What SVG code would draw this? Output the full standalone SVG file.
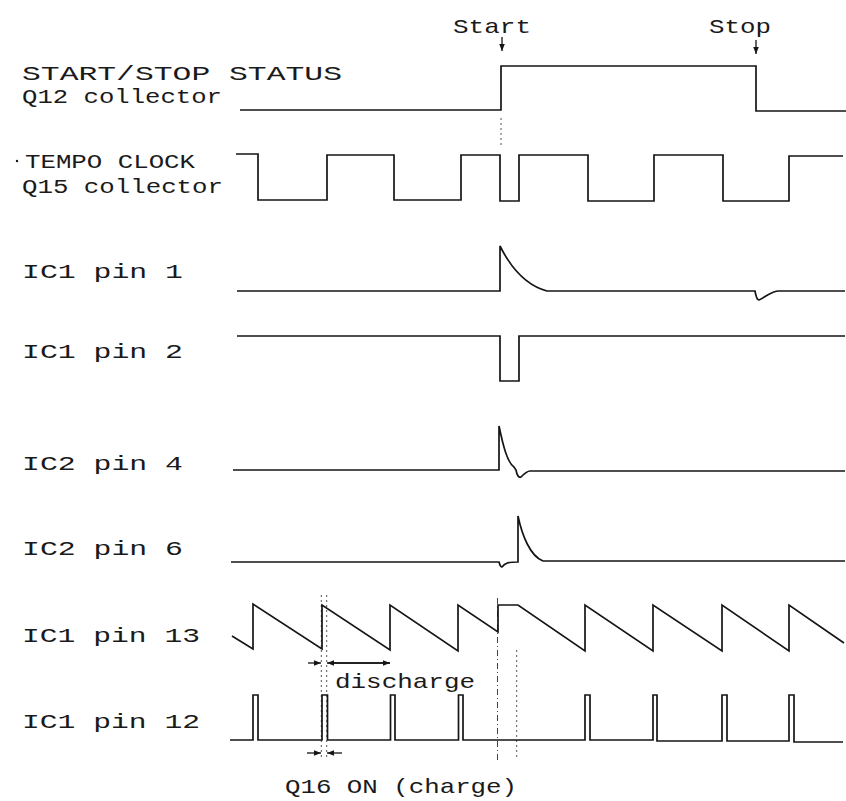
<svg xmlns="http://www.w3.org/2000/svg" width="846" height="801" viewBox="0 0 846 801">
<style>
.w{fill:none;stroke:#151515;stroke-width:1.7;stroke-linejoin:miter}
.t{font-family:"Liberation Mono","DejaVu Sans Mono",monospace;font-size:21px;fill:#1a1a1a}
.d{fill:none;stroke:#555;stroke-width:1;stroke-dasharray:2 3}
.dd{fill:none;stroke:#444;stroke-width:1;stroke-dasharray:6 3 1 3}
.a{fill:none;stroke:#151515;stroke-width:1.3}
</style>
<defs>
<marker id="ah" viewBox="0 0 10 10" refX="10" refY="5" markerWidth="7" markerHeight="7" markerUnits="userSpaceOnUse" orient="auto">
<path d="M0,1 L10,5 L0,9 Z" fill="#151515"/>
</marker>
</defs>
<rect width="846" height="801" fill="#fff"/>
<g id="labels">
<text class="t" x="22" y="80" textLength="320" lengthAdjust="spacingAndGlyphs">START/STOP STATUS</text>
<text class="t" x="22" y="103" textLength="200" lengthAdjust="spacingAndGlyphs">Q12 collector</text>
<circle cx="17" cy="161" r="1.2" fill="#151515"/>
<text class="t" x="25" y="168" textLength="170" lengthAdjust="spacingAndGlyphs">TEMPO CLOCK</text>
<text class="t" x="22" y="193" textLength="201" lengthAdjust="spacingAndGlyphs">Q15 collector</text>
<text class="t" x="22" y="278" textLength="161" lengthAdjust="spacingAndGlyphs">IC1 pin 1</text>
<text class="t" x="22" y="358" textLength="161" lengthAdjust="spacingAndGlyphs">IC1 pin 2</text>
<text class="t" x="22" y="470" textLength="161" lengthAdjust="spacingAndGlyphs">IC2 pin 4</text>
<text class="t" x="22" y="555" textLength="161" lengthAdjust="spacingAndGlyphs">IC2 pin 6</text>
<text class="t" x="22" y="642" textLength="178" lengthAdjust="spacingAndGlyphs">IC1 pin 13</text>
<text class="t" x="22" y="728" textLength="178" lengthAdjust="spacingAndGlyphs">IC1 pin 12</text>
</g>
<g id="markers">
<text class="t" x="453" y="33" textLength="78" lengthAdjust="spacingAndGlyphs">Start</text>
<text class="t" x="709" y="33" textLength="62" lengthAdjust="spacingAndGlyphs">Stop</text>
<line class="a" x1="502" y1="37" x2="502" y2="51" marker-end="url(#ah)"/>
<line class="a" x1="756" y1="40" x2="756" y2="54" marker-end="url(#ah)"/>
</g>
<g id="guides">
<line class="d" x1="501" y1="118" x2="501" y2="148"/>
<line class="dd" x1="497.5" y1="598" x2="497.5" y2="763"/>
<line class="d" x1="516.7" y1="650" x2="516.7" y2="757"/>
<line class="d" x1="321.3" y1="595" x2="321.3" y2="760"/>
<line class="d" x1="326.7" y1="595" x2="326.7" y2="760"/>
</g>
<g id="waveforms">
<path id="q12" class="w" d="M240,110 H501 V66 H756 V111 H846"/>
<path id="q15" class="w" d="M236,154 H258 V200 H327 V155 H394 V200 H461 V155 H500 V201 H519 V155 H588 V201 H654 V155 H723 V201 H789 V156 H843"/>
<path id="ic1p1" class="w" d="M237,291 H500 V246 C510,266 525,285 547,291 H755 C756,297 757,300 759,300 C764,298 770,292 778,291 H845"/>
<path id="ic1p2" class="w" d="M237,336 H500 V381 H519 V336 H845"/>
<path id="ic2p4" class="w" d="M233,470 H499 V426 C503,445 507,462 514,467 L516,470 C517,476 519,478 521,477 C524,474 527,471 530,471 H845"/>
<path id="ic2p6" class="w" d="M231,562 H499 C500,565 500,567 502,567 C505,563 508,562 518,562 V516 C522,535 530,556 543,561 H845"/>
<path id="ic1p13" class="w" d="M232,636 L253,649 V604 L322,649 V605 L390,650 V605 L458,651 V605 L498,632 V605 H518 L585,651 V605 L653,651 V605 L722,651 V605 L789,651 V605 L844,643"/>
<path id="ic1p12" class="w" d="M230,740 H253 V695 H258 V740 H322 V695 H327.5 V740 H390.5 V695 H395 V740 H458.5 V695 H463 V740 H585 V695 H590 V740 H653 V695 H657 V741 H722 V695 H727 V741 H789 V695 H794 V742 H843"/>
</g>
<g id="dimensions">
<line class="a" x1="308" y1="663" x2="321" y2="663" marker-end="url(#ah)"/>
<line class="a" x1="390" y1="663" x2="327" y2="663" marker-end="url(#ah)"/>
<line class="a" x1="330" y1="663" x2="390" y2="663" marker-end="url(#ah)"/>
<text class="t" x="335" y="688" textLength="140" lengthAdjust="spacingAndGlyphs">discharge</text>
<line class="a" x1="307" y1="753" x2="321" y2="753" marker-end="url(#ah)"/>
<line class="a" x1="342" y1="753" x2="327" y2="753" marker-end="url(#ah)"/>
<text class="t" x="285" y="793" textLength="232" lengthAdjust="spacingAndGlyphs">Q16 ON (charge)</text>
</g>
</svg>
